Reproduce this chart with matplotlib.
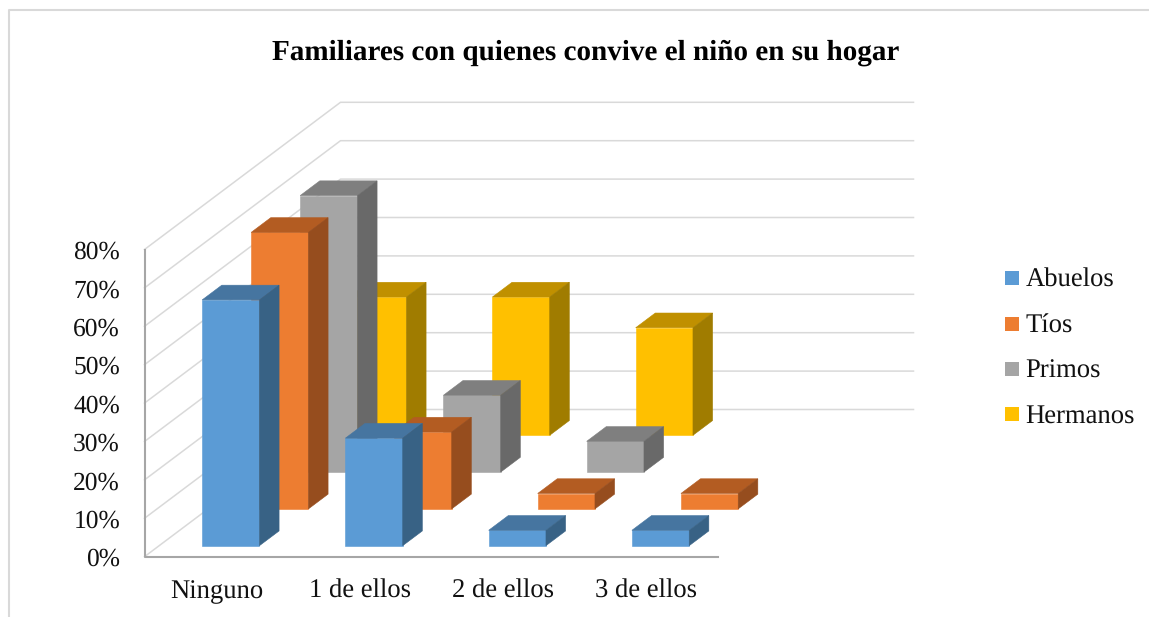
"""Familiares con quienes convive el nino: Excel style 3D columns on a flat axes."""

import matplotlib

matplotlib.use("Agg")
import matplotlib.pyplot as plt
from matplotlib.patches import Polygon, Rectangle

plt.rcParams["font.family"] = ["Liberation Serif", "DejaVu Serif"]
plt.rcParams["text.hinting"] = "no_hinting"

# Data, percent
categories = ["Ninguno", "1 de ellos", "2 de ellos", "3 de ellos"]
series_names = ["Abuelos", "Tíos", "Primos", "Hermanos"]
abuelos = [64, 28, 4, 4]
tios = [72, 20, 4, 4]
primos = [72, 20, 8, 0]
hermanos = [36, 36, 28, 0]
y_ticks = [0, 10, 20, 30, 40, 50, 60, 70, 80]

# front, top, side
COLORS = [
    ("#5B9BD5", "#4675A0", "#386285"),
    ("#ED7D31", "#B35C22", "#964D1E"),
    ("#A5A5A5", "#7F7F7F", "#696969"),
    ("#FFC000", "#C09000", "#A07C00"),
]
COLOR_GRID = "#D9D9D9"
COLOR_AXIS = "#A6A6A6"
COLOR_TEXT = "#111111"

# Oblique projection in image pixels
ORIGIN_X = 144.5
ORIGIN_Y = 556.7
CAT_W = 143.25
DEPTH_X = 49.0
DEPTH_Y = 36.8
PX_PER_PCT = 3.84
GAP = 0.3
BAR = 0.4


def project(cat, depth, value):
    """Category position, series depth and percent to image pixels."""
    return (
        ORIGIN_X + CAT_W * cat + DEPTH_X * depth,
        ORIGIN_Y - PX_PER_PCT * value - DEPTH_Y * depth,
    )


def draw_bar(ax, cat_i, series_i, value, colors):
    x0, x1 = cat_i + GAP, cat_i + GAP + BAR
    d0, d1 = series_i + GAP, series_i + GAP + BAR
    front, top, side = colors
    faces = [
        ([(x0, d0, 0), (x1, d0, 0), (x1, d0, value), (x0, d0, value)], front),
        ([(x0, d0, value), (x1, d0, value), (x1, d1, value), (x0, d1, value)], top),
        ([(x1, d0, 0), (x1, d1, 0), (x1, d1, value), (x1, d0, value)], side),
    ]
    for corners, color in faces:
        pts = [project(*c) for c in corners]
        ax.add_patch(Polygon(pts, closed=True, facecolor=color, edgecolor=color, linewidth=0.4, zorder=3))


fig = plt.figure(figsize=(11.49, 6.17), dpi=100, facecolor="white")
ax = fig.add_axes([0, 0, 1, 1])
ax.set_xlim(0, 1149)
ax.set_ylim(617, 0)
ax.axis("off")

# Chart frame, cut on the right and bottom in the source
ax.plot([9, 9, 1149], [617, 10, 10], color=COLOR_GRID, linewidth=1.5, zorder=1)

# Walls
n_cat = len(categories)
n_series = len(series_names)
for v in y_ticks:
    x_front, y_front = project(0, 0, v)
    x_back, y_back = project(0, n_series, v)
    x_right, y_right = project(n_cat, n_series, v)
    ax.plot([x_front, x_back, x_right], [y_front, y_back, y_right], color=COLOR_GRID, linewidth=1.1, zorder=1)

ax.plot(*zip(project(0, 0, 80), project(0, 0, 0), project(n_cat, 0, 0)), color=COLOR_AXIS, linewidth=1.5, zorder=2)

# Back to front so nearer bars cover the ones behind
all_series = [abuelos, tios, primos, hermanos]
for s in reversed(range(n_series)):
    for c, value in enumerate(all_series[s]):
        if value > 0:
            draw_bar(ax, c, s, value, COLORS[s])

# Tick labels
for v in y_ticks:
    ax.text(120, project(0, 0, v)[1] + 3, f"{v}%", ha="right", va="center", fontsize=18.4, color=COLOR_TEXT)
for c, name in enumerate(categories):
    ax.text(project(c + 0.5, 0, 0)[0] + 0.5, 591.5, name, ha="center", va="center", fontsize=19.2, color=COLOR_TEXT)

# Legend
legend_y = [278, 323.5, 369, 414]
for s, name in enumerate(series_names):
    ax.add_patch(Rectangle((1005, legend_y[s] - 7), 14, 14, facecolor=COLORS[s][0], edgecolor="none"))
    ax.text(1025.5, legend_y[s] + 2.5, name, ha="left", va="center", fontsize=19.2, color=COLOR_TEXT)

ax.text(
    585.5,
    52.5,
    "Familiares con quienes convive el niño en su hogar",
    ha="center",
    va="center",
    fontsize=21,
    fontweight="bold",
    color="black",
)

fig.savefig("out.png", dpi=100, facecolor="white")
